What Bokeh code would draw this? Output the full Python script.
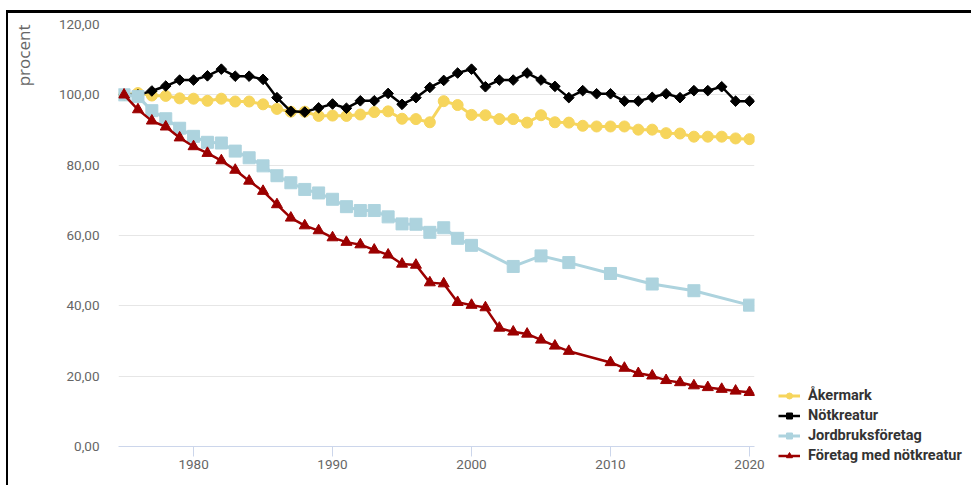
from math import pi
from bokeh.plotting import figure
from bokeh.models import (ColumnDataSource, FixedTicker, Legend, LegendItem,
                          Title, Range1d)
from bokeh.embed import file_html
from bokeh.resources import INLINE

# ---------------- data ----------------
years = list(range(1975, 2021))

akermark = [100.0, 100.5, 99.8, 99.7, 99.0, 98.9, 98.3, 98.9, 98.1, 98.1,
            97.3, 96.0, 95.2, 95.2, 94.0, 94.1, 94.0, 94.4, 95.1, 95.3,
            93.2, 93.1, 92.2, 98.2, 97.1, 94.3, 94.2, 93.1, 93.1, 92.1,
            94.2, 92.2, 92.1, 91.2, 91.0, 91.0, 91.0, 90.1, 90.1, 89.1,
            89.0, 88.1, 88.1, 88.1, 87.6, 87.4]

notkreatur = [100.0, 100.0, 101.1, 102.5, 104.2, 104.2, 105.4, 107.3, 105.3, 105.3,
              104.4, 99.2, 95.3, 95.1, 96.3, 97.4, 96.2, 98.3, 98.3, 100.4,
              97.3, 99.2, 102.1, 104.1, 106.2, 107.3, 102.3, 104.2, 104.2, 106.2,
              104.2, 102.4, 99.2, 101.2, 100.3, 100.3, 98.2, 98.2, 99.3, 100.3,
              99.2, 101.2, 101.2, 102.3, 98.2, 98.2]

jord_years = list(range(1975, 2001)) + [2003, 2005, 2007, 2010, 2013, 2016, 2020]
jordbruksforetag = [100.0, 99.5, 95.5, 93.2, 90.5, 88.2, 86.5, 86.3, 84.0, 82.1,
                    79.8, 77.0, 75.0, 73.1, 72.1, 70.3, 68.2, 67.1, 67.1, 65.3,
                    63.3, 63.2, 60.9, 62.2, 59.2, 57.2,
                    51.2, 54.2, 52.3, 49.2, 46.2, 44.3, 40.2]

ftg_years = list(range(1975, 2008)) + list(range(2010, 2021))
foretag_not = [100.0, 95.8, 92.6, 90.9, 87.8, 85.3, 83.4, 81.3, 78.6, 75.5,
               72.6, 68.8, 65.0, 62.8, 61.4, 59.4, 58.1, 57.4, 55.9, 54.5,
               51.9, 51.6, 46.6, 46.3, 41.0, 40.2, 39.5, 33.7, 32.6, 32.0,
               30.3, 28.6, 27.1,
               23.9, 22.3, 20.8, 20.1, 18.8, 18.2, 17.3, 16.8, 16.3, 15.8, 15.4]

series_names = ["Åkermark", "Nötkreatur", "Jordbruksföretag", "Företag med nötkreatur"]
y_ticks = [0, 20, 40, 60, 80, 100, 120]
y_tick_labels = ["0,00", "20,00", "40,00", "60,00", "80,00", "100,00", "120,00"]
x_ticks = [1980, 1990, 2000, 2010, 2020]
y_title = "procent"

# ---------------- figure ----------------
p = figure(frame_width=636, frame_height=422,
           min_border_left=107, min_border_right=215,
           min_border_top=11, min_border_bottom=39,
           x_range=Range1d(1974.6, 2020.36), y_range=Range1d(0, 120),
           output_backend="svg", toolbar_location=None)
p.styles = {"margin-left": "6px", "margin-top": "10px",
            "border-left": "2px solid #000000",
            "border-top": "3px solid #000000",
            "border-right": "0px none", "border-bottom": "0px none"}
p.outline_line_color = None
p.background_fill_color = "white"
p.border_fill_color = "white"

# grid
p.xgrid.visible = False
p.ygrid.ticker = FixedTicker(ticks=y_ticks)
p.ygrid.grid_line_color = "#e6e6e6"
p.ygrid.grid_line_width = 1

# y axis
yax = p.yaxis[0]
yax.ticker = FixedTicker(ticks=y_ticks)
yax.major_label_overrides = {t: l for t, l in zip(y_ticks, y_tick_labels)}
yax.axis_line_color = None
yax.major_tick_line_color = None
yax.major_tick_out = 0
yax.major_tick_in = 0
yax.minor_tick_line_color = None
yax.major_label_standoff = 19
yax.major_label_text_font = "Roboto"
yax.major_label_text_font_size = "13.5px"
yax.major_label_text_color = "#666666"

# y title (vertical, hanging down from the top of the axis)
if "axis_label_align" in yax.properties():
    # the label is centred on the top end of the axis; trailing no-break
    # spaces (same width as the word) make the word itself end at the top
    yax.axis_label = y_title + "\u00a0" * 14
    yax.axis_label_align = "end"
    yax.axis_label_standoff = 21
    yax.axis_label_text_font = "Open Sans"
    yax.axis_label_text_font_size = "17px"
    yax.axis_label_text_font_style = "normal"
    yax.axis_label_text_color = "#666666"
else:
    p.add_layout(Title(text=y_title, align="right", vertical_align="top",
                       text_font="Open Sans", text_font_size="17px",
                       text_font_style="normal", text_color="#666666",
                       standoff=10), "left")

# x axis
p.xaxis.ticker = FixedTicker(ticks=x_ticks)
p.xaxis.axis_line_color = "#ccd6eb"
p.xaxis.major_tick_line_color = "#ccd6eb"
p.xaxis.major_tick_out = 10
p.xaxis.major_tick_in = 0
p.xaxis.minor_tick_line_color = None
p.xaxis.major_label_standoff = 3
p.xaxis.major_label_text_font = "Roboto"
p.xaxis.major_label_text_font_size = "13.5px"
p.xaxis.major_label_text_color = "#666666"

# ---------------- series ----------------
colors = ["#F6D55C", "#000000", "#ADD3DE", "#9C0000"]
specs = [
    (years, akermark, "circle", 11, 0, 3),
    (years, notkreatur, "square", 7.5, pi / 4, 2.5),
    (jord_years, jordbruksforetag, "square", 12, 0, 3),
    (ftg_years, foretag_not, "triangle", 11, 0, 2.5),
]

items = []
for name, color, (xs, ys, marker, size, ang, lw) in zip(series_names, colors, specs):
    src = ColumnDataSource(data=dict(x=xs, y=ys))
    lr = p.line("x", "y", source=src, line_color=color, line_width=lw)
    sr = p.scatter("x", "y", source=src, marker=marker, size=size, angle=ang,
                   fill_color=color, line_color=color, line_width=1)
    items.append(LegendItem(label=name, renderers=[lr, sr]))

legend = Legend(items=items, location=(24, -18), orientation="vertical",
                glyph_width=22, glyph_height=15, label_height=15,
                label_standoff=8, spacing=3, padding=0, margin=0,
                border_line_color=None, background_fill_alpha=0,
                label_text_font="Roboto", label_text_font_size="14.5px",
                label_text_font_style="bold", label_text_color="#333333")
p.add_layout(legend, "right")

open("out.html", "w").write(file_html(p, INLINE))
